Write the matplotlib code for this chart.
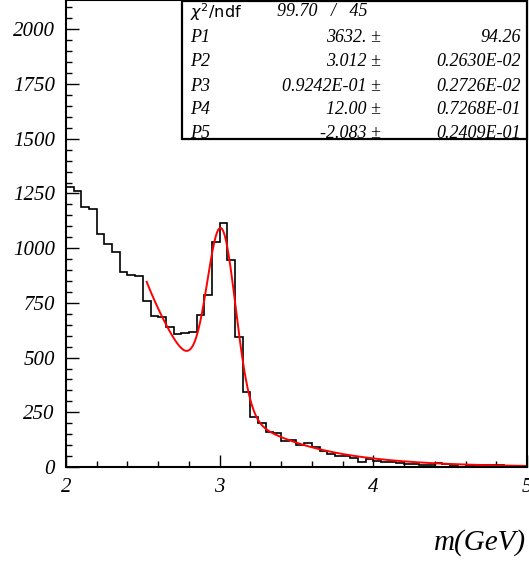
import numpy as np
import matplotlib
matplotlib.use("Agg")
import matplotlib.pyplot as plt
from matplotlib.ticker import MultipleLocator

# Histogram: 60 bins of 0.05 GeV from 2 to 5
bin_edges = np.linspace(2.0, 5.0, 61)
counts = [1278, 1263, 1187, 1180, 1063, 1019, 984, 890, 876, 873,
          757, 692, 684, 641, 606, 611, 615, 695, 786, 1027,
          1114, 945, 596, 344, 230, 201, 158, 157, 119, 123,
          100, 111, 90, 73, 60, 51, 50, 43, 25, 37,
          26, 24, 21, 17, 12, 12, 9, 9, 17, 12,
          6, 2, 11, 6, 8, 8, 9, 3, 2, 2]

# Fit parameters (Gaussian + exponential background)
P1, P2, P3, P4, P5 = 3632.0, 3.012, 0.09242, 12.00, -2.083
fit_range = (2.525, 5.0)
bin_width = 0.05

x_ticks = [2, 3, 4, 5]
x_ticklabels = ["2", "3", "4", "5"]
y_ticks = [0, 250, 500, 750, 1000, 1250, 1500, 1750, 2000]
y_ticklabels = [str(v) for v in y_ticks]

stat_rows = [("P1", "3632. \u00b1", "94.26"),
             ("P2", "3.012 \u00b1", "0.2630E-02"),
             ("P3", "0.9242E-01 \u00b1", "0.2726E-02"),
             ("P4", "12.00 \u00b1", "0.7268E-01"),
             ("P5", "-2.083 \u00b1", "0.2409E-01")]
chi2_text = "99.70   /   45"

W, H = 529, 562
fig = plt.figure(figsize=(W / 100, H / 100), dpi=100)
ax = fig.add_axes([66 / W, (H - 467) / H, (527 - 66) / W, 467 / H])

serif = "Liberation Serif"
tfont = dict(fontfamily=serif, fontstyle="italic", fontsize=15)

ax.stairs(counts, bin_edges, color="black", lw=1.2)
xf = np.linspace(fit_range[0], fit_range[1], 400)
yf = (P1 * bin_width / (np.sqrt(2 * np.pi) * P3)) * np.exp(-0.5 * ((xf - P2) / P3) ** 2) \
    + np.exp(P4 + P5 * xf)
ax.plot(xf, yf, color="red", lw=1.4)

ax.set_xlim(2, 5)
ax.set_ylim(0, 2134)
ax.set_xticks(x_ticks, labels=x_ticklabels, **tfont)
ax.set_yticks(y_ticks, labels=y_ticklabels, **tfont)
ax.set_xlim(2, 5)
ax.set_ylim(0, 2134)
ax.xaxis.set_minor_locator(MultipleLocator(0.2))
ax.yaxis.set_minor_locator(MultipleLocator(50))
ax.tick_params(which="both", direction="in", top=False, right=False)
ax.tick_params(which="major", length=9, width=1)
ax.tick_params(which="minor", length=4.5, width=1)
ax.tick_params(axis="y", which="major", pad=8)
ax.tick_params(axis="x", which="major", pad=8)
for sp in ax.spines.values():
    sp.set_linewidth(1.5)

fig.text(526 / W, 1 - 543 / H, "m(GeV)", ha="right", va="center",
         fontfamily=serif, fontstyle="italic", fontsize=21)

# Stats box
x0, x1, y0, y1 = 182, 527, 1, 139
box = plt.Rectangle((x0 / W, 1 - y1 / H), (x1 - x0) / W, (y1 - y0) / H,
                    transform=fig.transFigure, fill=True, facecolor="white",
                    edgecolor="black", lw=1.6, zorder=5)
fig.add_artist(box)
row_y = [12, 37, 61, 86, 110, 134]
fs = 13
fig.text(190 / W, 1 - row_y[0] / H, r"$\chi^2$/ndf", ha="left", va="center",
         fontfamily="DejaVu Sans", fontsize=11.5, zorder=6)
fig.text(277 / W, 1 - row_y[0] / H, chi2_text, ha="left", va="center",
         fontfamily=serif, fontstyle="italic", fontsize=fs, zorder=6)
for (name, val, err), yy in zip(stat_rows, row_y[1:]):
    fig.text(190 / W, 1 - yy / H, name, ha="left", va="center",
             fontfamily=serif, fontstyle="italic", fontsize=fs, zorder=6)
    fig.text(381 / W, 1 - yy / H, val, ha="right", va="center",
             fontfamily=serif, fontstyle="italic", fontsize=fs, zorder=6)
    fig.text(521 / W, 1 - yy / H, err, ha="right", va="center",
             fontfamily=serif, fontstyle="italic", fontsize=fs, zorder=6)

fig.savefig("out.png", dpi=100)
